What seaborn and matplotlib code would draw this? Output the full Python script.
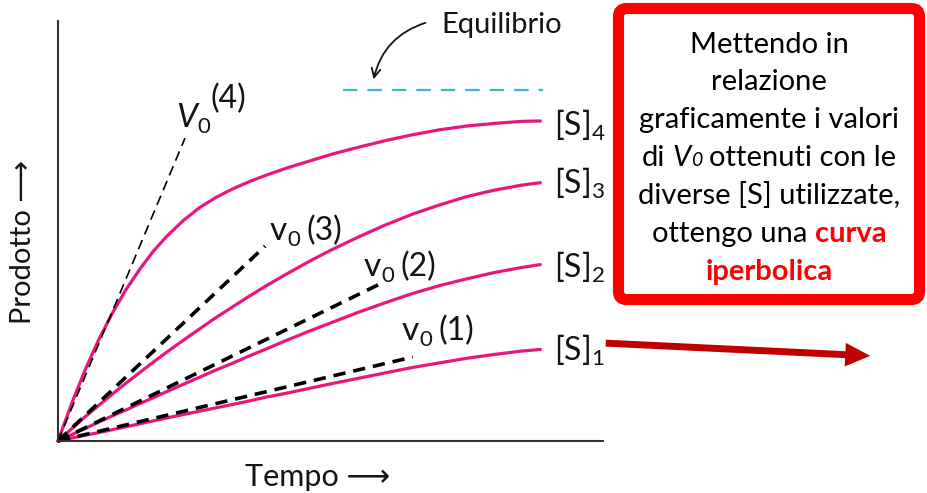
import matplotlib
matplotlib.use("Agg")
import matplotlib.pyplot as plt
from matplotlib.patches import FancyBboxPatch, FancyArrowPatch, ArrowStyle
from matplotlib.transforms import IdentityTransform
import numpy as np
import pandas as pd
import seaborn as sns

# ---- data: product formed over time at four substrate concentrations ----
tempo = [0, 2.5, 5, 7.5, 10, 12.5, 15, 17.5, 20, 23, 26, 29, 32, 35, 38, 42, 46,
         50, 55, 60, 65, 70, 75, 80, 85, 88.5]
prodotto_s1 = [0, 0.7, 1.4, 2.0, 2.7, 3.4, 4.1, 4.8, 5.5, 6.3, 7.1, 7.9, 8.7, 9.5,
               10.4, 11.4, 12.5, 13.6, 14.9, 16.2, 17.5, 18.6, 19.7, 20.6, 21.4, 21.8]
prodotto_s2 = [0, 1.5, 3.0, 4.5, 6.0, 7.4, 8.9, 10.3, 11.8, 13.5, 15.2, 16.9, 18.5,
               20.2, 21.8, 24.0, 26.1, 28.1, 30.6, 32.9, 35.1, 37.0, 38.6, 40.1, 41.3, 42.0]
prodotto_s3 = [0, 2.9, 5.8, 8.5, 11.2, 13.8, 16.3, 18.8, 21.2, 24.0, 26.7, 29.4, 31.9,
               34.4, 36.8, 39.8, 42.7, 45.4, 48.5, 51.4, 54.0, 56.2, 58.2, 59.7, 60.9, 61.5]
prodotto_s4 = [0, 8.9, 17.0, 24.2, 30.5, 36.1, 40.9, 45.2, 48.8, 52.5, 55.6, 58.0, 60.0,
               61.7, 63.2, 65.0, 66.6, 68.2, 69.9, 71.5, 72.9, 74.1, 75.0, 75.6, 76.1, 76.2]
serie = ["1", "2", "3", "4"]

# initial-rate tangents (v0): each starts at the origin and ends here
v0_nomi = ["(1)", "(2)", "(3)", "(4)"]
v0_fine_t = [65.1, 59.4, 38.0, 23.3]
v0_fine_p = [20.0, 37.6, 46.4, 72.1]

# equilibrium level
equilibrio_p = 83.6
equilibrio_t = [52.3, 89.0]

PINK = "#e8177e"
CYAN = "#3cb4d8"
INK = "#141414"

sns.set_theme(style="white")
plt.rcParams["font.family"] = ["Lato", "DejaVu Sans"]
plt.rcParams["mathtext.fontset"] = "custom"
plt.rcParams["mathtext.rm"] = "Lato"
plt.rcParams["mathtext.it"] = "Lato:italic"
plt.rcParams["mathtext.bf"] = "Lato:bold"

W, H = 927, 493
fig = plt.figure(figsize=(W / 100, H / 100), dpi=100)
fig.patch.set_facecolor("white")
ax = fig.add_axes([58 / W, (H - 441) / H, 545 / W, 420 / H])
renderer = fig.canvas.get_renderer()


def fx(x):
    return x / W


def fy(y):
    return 1 - y / H


def run_width(s, kw):
    probe = fig.text(0, 0, "|" + s + "|", **kw)
    bar = fig.text(0, 0, "||", **kw)
    w = probe.get_window_extent(renderer).width - bar.get_window_extent(renderer).width
    probe.remove()
    bar.remove()
    return w


# product curves
df = pd.DataFrame({
    "tempo": tempo * 4,
    "prodotto": prodotto_s1 + prodotto_s2 + prodotto_s3 + prodotto_s4,
    "serie": np.repeat(serie, len(tempo)),
})
sns.lineplot(data=df, x="tempo", y="prodotto", hue="serie", palette=[PINK] * 4,
             estimator=None, sort=False, legend=False, linewidth=2.3, ax=ax)

# tangents for the initial velocity
for i, (t, p) in enumerate(zip(v0_fine_t, v0_fine_p)):
    thin = i == 3
    sns.lineplot(x=[0, t], y=[0, p], color="black", estimator=None, sort=False,
                 linewidth=1.2 if thin else 2.6,
                 linestyle=(0, (6, 3.6)) if thin else (0, (3.4, 2.2)), ax=ax)

# equilibrium level
sns.lineplot(x=equilibrio_t, y=[equilibrio_p] * 2, color=CYAN, linewidth=1.6,
             linestyle=(0, (6.5, 4.5)), ax=ax)

for ln in ax.lines:
    ln.set_clip_on(False)

ax.set_xlim(0, 100)
ax.set_ylim(0, 100)
ax.set_xticks([])
ax.set_yticks([])
ax.set_xlabel("")
ax.set_ylabel("")
sns.despine(ax=ax)
for s in ("left", "bottom"):
    ax.spines[s].set_color("#333333")
    ax.spines[s].set_linewidth(1.5)

# axis titles
fig.text(fx(245), fy(486), "Tempo \u27f6", fontsize=22, color=INK, va="baseline", ha="left")
fig.text(fx(23), fy(242), "Prodotto \u27f6", fontsize=21, color=INK, va="center",
         ha="center", rotation=90)


# v0 labels: letter, lowered "0", then the index in brackets
def v0_label(x0, yb, letter, letter_kw, idx, idx_dy, gap):
    kw_l = dict(fontsize=24, color=INK, **letter_kw)
    kw_s = dict(fontsize=16, color=INK)
    kw_i = dict(fontsize=23, color=INK)
    fig.text(fx(x0), fy(yb), letter, va="baseline", **kw_l)
    x1 = x0 + run_width(letter, kw_l)
    fig.text(fx(x1), fy(yb + 6), "0", va="baseline", **kw_s)
    x2 = x1 + run_width("0", kw_s) + gap
    fig.text(fx(x2), fy(yb + idx_dy), idx, va="baseline", **kw_i)


v0_label(176, 127, "V", dict(style="italic"), v0_nomi[3], -19, 1)
v0_pos = {0: (402, 340), 1: (364, 276), 2: (270, 240)}
for i, (x0, y0) in v0_pos.items():
    v0_label(x0, y0, "v", {}, v0_nomi[i], 0, 6)

# substrate labels
s_base = [361, 278, 194, 136]
for i, yb in enumerate(s_base):
    fig.text(fx(554), fy(yb), "[S]$_{%s}$" % serie[i], fontsize=23, color=INK,
             va="baseline")

# equilibrium note
fig.text(fx(441), fy(33), "Equilibrio", fontsize=21, color=INK, va="baseline")
fig.add_artist(FancyArrowPatch(posA=(428, H - 22), posB=(373, H - 82),
                               transform=IdentityTransform(),
                               connectionstyle="arc3,rad=0.3", arrowstyle="->",
                               mutation_scale=16, lw=1.3, color=INK))

# side box
fig.add_artist(FancyBboxPatch((618.5, H - 299.5), 301, 291,
                              boxstyle="round,pad=0,rounding_size=8",
                              transform=IdentityTransform(), facecolor="white",
                              edgecolor="#ff0000", linewidth=8))

base_kw = dict(fontsize=21, color="black")
red_kw = dict(fontsize=21, color="#ff0000", fontweight="bold")
box_lines = [
    [("Mettendo in", base_kw)],
    [("relazione", base_kw)],
    [("graficamente i valori", base_kw)],
    [("di ", base_kw), ("V", dict(base_kw, style="italic")),
     ("0", dict(fontsize=14, color="black", style="italic")), (" ottenuti con le", base_kw)],
    [("diverse [S] utilizzate,", base_kw)],
    [("ottengo una ", base_kw), ("curva", red_kw)],
    [("iperbolica", red_kw)],
]
baselines = [53, 90, 128, 166, 204, 242, 280]

for parts, yb in zip(box_lines, baselines):
    widths = [run_width(s, kw) for s, kw in parts]
    x = 769 - sum(widths) / 2
    for (s, kw), w in zip(parts, widths):
        lead = run_width(" ", kw) if s.startswith(" ") else 0
        fig.text(fx(x + lead), fy(yb), s.strip(), va="baseline", ha="left", **kw)
        x += w

# arrow pointing out of the chart
fig.add_artist(FancyArrowPatch(posA=(603, H - 343), posB=(873, H - 356),
                               transform=IdentityTransform(),
                               arrowstyle=ArrowStyle("simple", head_length=18,
                                                     head_width=17, tail_width=5),
                               mutation_scale=1, color="#c00000", lw=0))

fig.savefig("out.png", dpi=100)
